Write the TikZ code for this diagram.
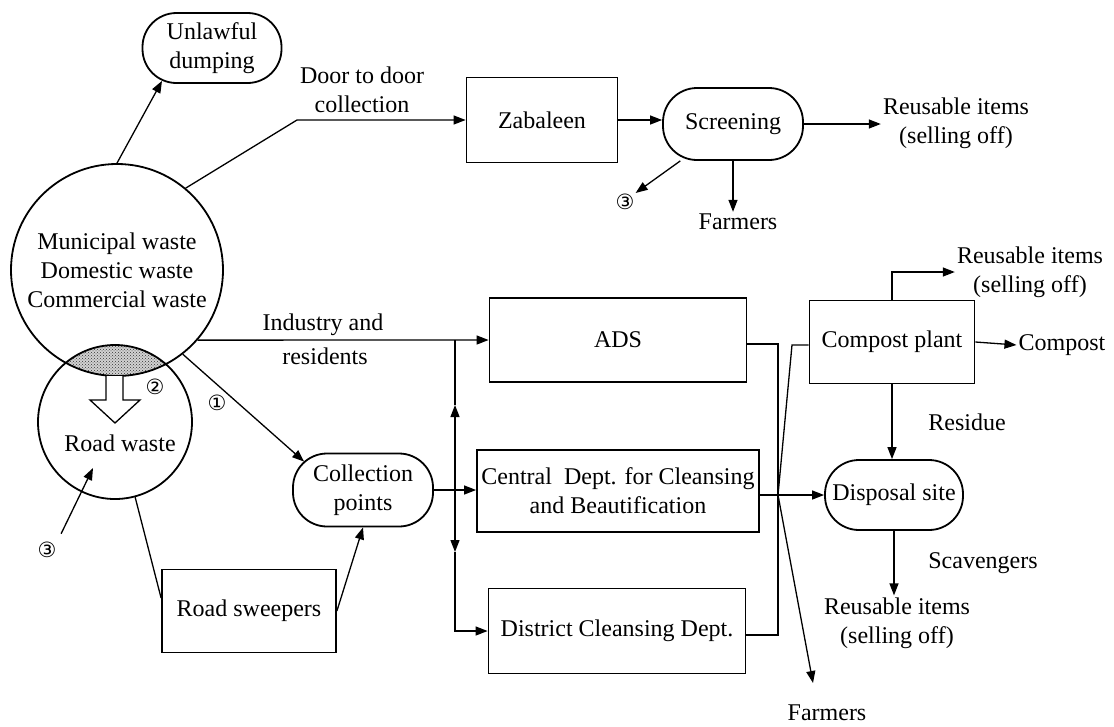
\documentclass[tikz,border=0pt]{standalone}
\usepackage{fontspec}
\setmainfont{Liberation Serif}
\newfontfamily\dejavu{DejaVu Sans}
\usetikzlibrary{arrows.meta,patterns,calc}
\newcommand\myfs{\fontsize{24}{29}\selectfont}
\begin{document}
\begin{tikzpicture}[x=1pt,y=-1pt,
  box/.style={draw, line width=1.8pt, inner sep=2pt, align=center, font=\myfs},
  pill/.style={box, rounded corners=34pt},
  txt/.style={inner sep=2pt, align=center, font=\myfs},
  num/.style={inner sep=1pt, font=\dejavu\fontsize{21}{21}\selectfont},
  ln/.style={line width=1.3pt},
  arr/.style={line width=1.3pt, -{Triangle[length=12pt,width=9pt]}}]
\useasboundingbox (0,0) rectangle (1114,726);

% lens between the two circles
\begin{scope}
  \clip (117,270) circle (106pt);
  \fill[gray!35] (115,422) circle (77pt);
  \fill[pattern=crosshatch dots, pattern color=black!80] (115,422) circle (77pt);
\end{scope}

% circles
\node[draw, circle, line width=1.8pt, minimum size=212pt, inner sep=0pt, align=center, font=\myfs] (muni) at (117,270)
  {Municipal waste\\Domestic waste\\Commercial waste};
\node[draw, circle, line width=1.8pt, minimum size=154pt, inner sep=0pt] (road) at (115,422) {};
\node[txt] (roadtxt) at (120,443) {Road waste};

% hollow arrow
\draw[line width=1.3pt, fill=white] (106,376) -- (106,400) -- (90,400) -- (115,423) -- (140,400) -- (123,400) -- (123,376);

% boxes
\node[pill, minimum width=139pt, minimum height=70pt] (unl) at (212,48) {Unlawful\\dumping};
\node[box, minimum width=151pt, minimum height=85pt] (zab) at (542,120) {Zabaleen};
\node[pill, minimum width=140pt, minimum height=72pt] (scr) at (733,124) {Screening};
\node[pill, minimum width=140pt, minimum height=73pt] (coll) at (363,490) {Collection\\points};
\node[box, minimum width=257pt, minimum height=84pt] (ads) at (618,340) {ADS};
\node[box, minimum width=282pt, minimum height=82pt] (cen) at (618,491) {Central\ \ Dept. for Cleansing\\and Beautification};
\node[box, minimum width=257pt, minimum height=85pt] (dist) at (617,631) {District Cleansing Dept.};
\node[box, minimum width=174pt, minimum height=83pt] (rs) at (249,611) {Road sweepers};
\node[box, minimum width=165pt, minimum height=83pt] (comp) at (892,342) {Compost plant};
\node[pill, minimum width=138pt, minimum height=70pt] (disp) at (894,495) {Disposal site};

% labels
\node[txt] (dd) at (362,90) {Door to door\\collection};
\node[txt] (ind1) at (323,325) {Industry and};
\node[txt] (ind2) at (325,356) {residents};
\node[txt] (reuse1) at (956,123) {Reusable items\\(selling off)};
\node[txt] (f1) at (738,222) {Farmers};
\node[txt] (reuse2) at (1030,272) {Reusable items\\(selling off)};
\node[txt] (cpt) at (1062,345) {Compost};
\node[txt] (res) at (967,422) {Residue};
\node[txt] (scav) at (983,563) {Scavengers};
\node[txt] (reuse3) at (897,623) {Reusable items\\(selling off)};
\node[txt] (f2) at (827,713) {Farmers};
\node[num] (c3a) at (625,202) {③};
\node[num] (c1) at (217,403) {①};
\node[num] (c2) at (155,387) {②};
\node[num] (c3b) at (47,550) {③};

% coordinates
\coordinate (dd1) at (297,120);
\coordinate (jt) at (455,340);
\coordinate (jc) at (455,490);
\coordinate (ju) at (455,405);
\coordinate (jd) at (455,552);
\coordinate (b1) at (778,344);
\coordinate (b2) at (778,635);
\coordinate (jx) at (778,495);
\coordinate (kx) at (792,345);
\coordinate (ft) at (813,683);
\coordinate (r3) at (93,468);

% connectors
\draw[arr] (muni.north) -- ($(unl.south)+(-50,-3)$);
\draw[arr] (muni.50) -- (dd1) -- (zab.west);
\draw[arr] (zab.east) -- (scr.west |- zab.east);
\draw[arr] (scr.east) -- (reuse1.west |- scr.east);
\draw[arr] (scr.215) -- (c3a.north east);
\draw[arr] (scr.south) -- (scr.south |- f1.north);

\draw[arr] (muni.-41) -- (ads.west);
\draw[arr] (muni.-52) -- ($(coll.north west)+(12,9)$);
\draw[arr] (coll.east) -- (cen.west |- coll.east);
\draw[ln] (ju) -- (jt);
\draw[arr] (jc) -- (ju);
\draw[arr] (jc) -- (jd);
\draw[arr] (jd) |- (dist.west);

\draw[ln] (ads.east |- b1) -- (b1) -- (b2) -- (dist.east |- b2);
\draw[arr] (cen.east |- disp.west) -- (disp.west);
\draw[ln] (jx) -- (kx) -- (comp.west |- kx);
\draw[arr] (jx) -- (ft);

\draw[arr] (comp.east) -- (cpt.west);
\draw[arr] (comp.north) |- (reuse2.west);
\draw[arr] (comp.south) -- (comp.south |- disp.north);
\draw[arr] (disp.south) -- (disp.south |- reuse3.north);

\draw[arr, shorten <=8pt] (c3b.north east) -- (r3);
\draw[ln] (road.-75) -- ($(rs.west)+(0,-13)$);
\draw[arr] (rs.east) -- (coll.south);
\end{tikzpicture}
\end{document}
